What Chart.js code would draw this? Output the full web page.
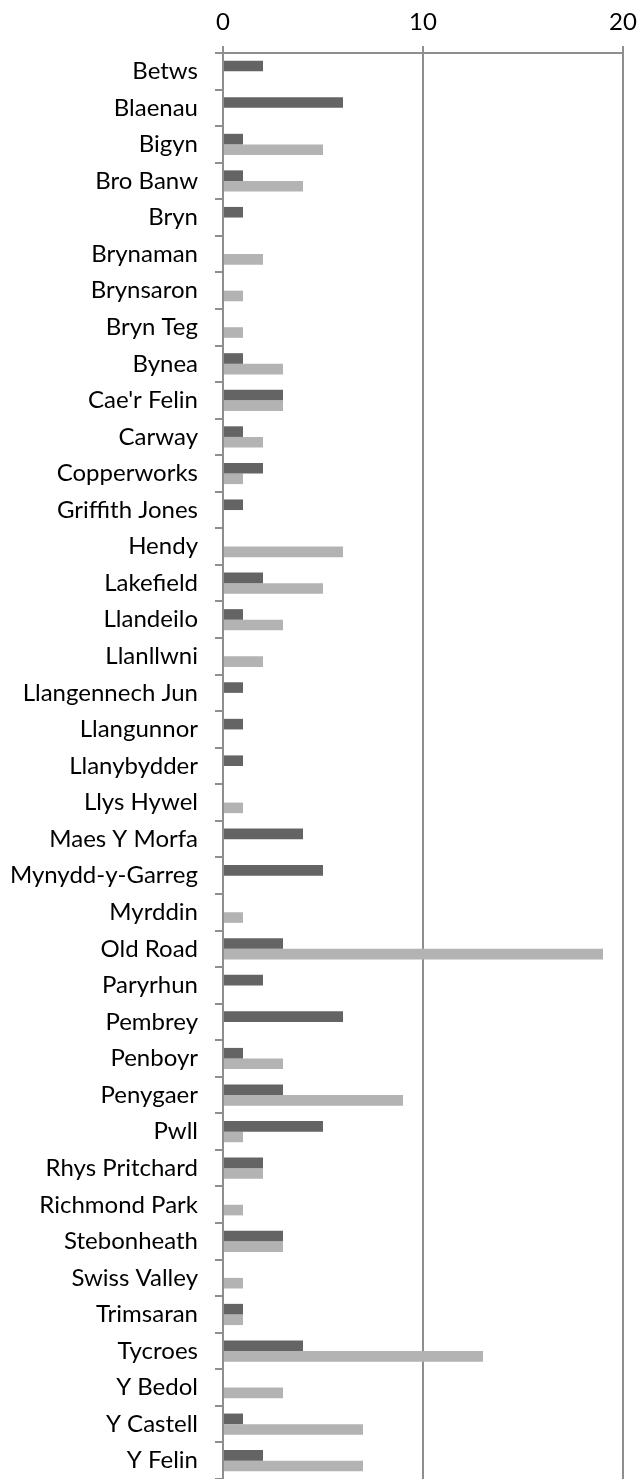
<!DOCTYPE html>
<html>
<head>
<meta charset="utf-8">
<script src="https://cdn.jsdelivr.net/npm/chart.js@4"></script>
<style>
html,body{margin:0;padding:0;background:#fff;}
#wrap{width:638px;height:1479px;position:relative;}
</style>
</head>
<body>
<div id="wrap"><canvas id="c" width="638" height="1479"></canvas></div>
<script>
const categories = ["Betws","Blaenau","Bigyn","Bro Banw","Bryn","Brynaman","Brynsaron","Bryn Teg","Bynea","Cae'r Felin","Carway","Copperworks","Griffith Jones","Hendy","Lakefield","Llandeilo","Llanllwni","Llangennech Jun","Llangunnor","Llanybydder","Llys Hywel","Maes Y Morfa","Mynydd-y-Garreg","Myrddin","Old Road","Paryrhun","Pembrey","Penboyr","Penygaer","Pwll","Rhys Pritchard","Richmond Park","Stebonheath","Swiss Valley","Trimsaran","Tycroes","Y Bedol","Y Castell","Y Felin"];
const seriesDark  = [2,6,1,1,1,0,0,0,1,3,1,2,1,0,2,1,0,1,1,1,0,4,5,0,3,2,6,1,3,5,2,0,3,0,1,4,0,1,2];
const seriesLight = [0,0,5,4,0,2,1,1,3,3,2,1,0,6,5,3,2,0,0,0,1,0,0,1,19,0,0,3,9,1,2,1,3,1,1,13,3,7,7];
const xTicks = [0,10,20];

const FONT = "Lato, 'Liberation Sans', sans-serif";
new Chart(document.getElementById('c'), {
  type: 'bar',
  data: {
    labels: categories,
    datasets: [
      {label:'A', data: seriesDark, backgroundColor:'#646464', borderWidth:0, categoryPercentage:0.58, barPercentage:1.0},
      {label:'B', data: seriesLight, backgroundColor:'#b3b3b3', borderWidth:0, categoryPercentage:0.58, barPercentage:1.0}
    ]
  },
  options: {
    indexAxis: 'y',
    responsive: false,
    animation: false,
    layout: {padding: {left:0, right:15, top:0, bottom:0}},
    plugins: {legend:{display:false}, tooltip:{enabled:false}},
    scales: {
      x: {
        position: 'top',
        min: 0, max: 20,
        afterBuildTicks: (s) => { s.ticks = xTicks.map(v => ({value:v})); },
        afterFit: (s) => { s.height = 53; s.paddingLeft = 0; s.paddingRight = 0; },
        ticks: {color:'#000', font:{family:FONT, size:24}, padding:9, maxRotation:0},
        grid: {color:'#8e8e8e', lineWidth:2, tickLength:7, drawTicks:true},
        border: {color:'#8e8e8e', width:2}
      },
      y: {
        afterFit: (s) => { s.width = 223; s.paddingTop = 0; s.paddingBottom = 0; },
        ticks: {color:'#000', font:{family:FONT, size:24}, padding:17, autoSkip:false},
        grid: {color:'#8e8e8e', lineWidth:2, tickLength:8, drawOnChartArea:false, offset:true},
        border: {color:'#8e8e8e', width:2}
      }
    }
  }
});
</script>
</body>
</html>
